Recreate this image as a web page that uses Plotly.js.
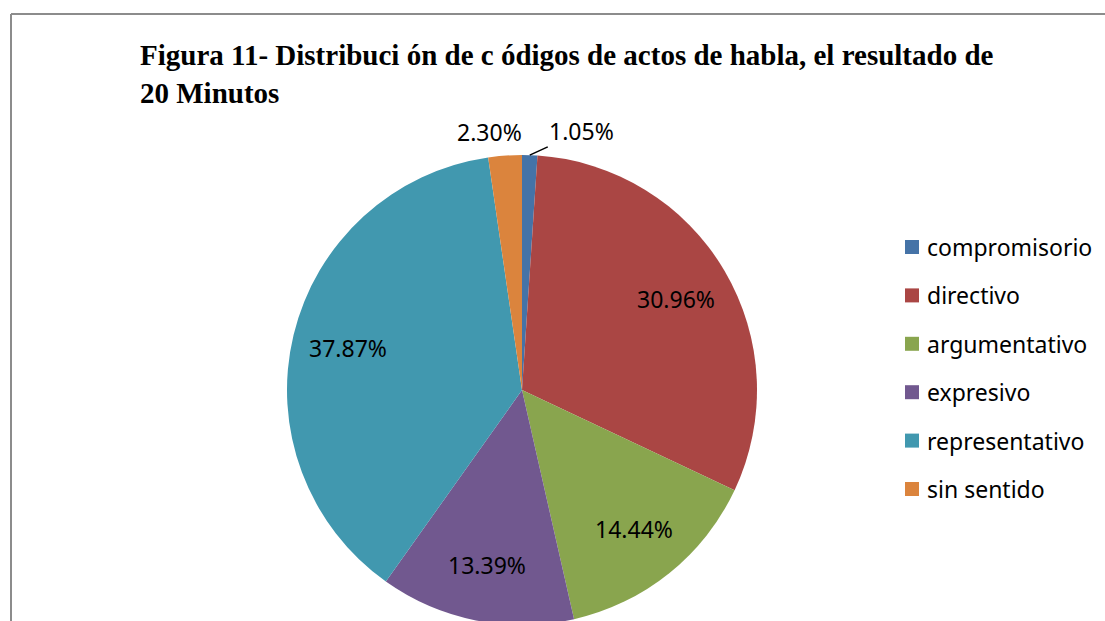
<!DOCTYPE html>
<html>
<head>
<meta charset="utf-8">
<script src="https://cdn.plot.ly/plotly-3.0.1.min.js"></script>
<style>
html,body{margin:0;padding:0;overflow:hidden;background:#fff;}
#chart{width:1105px;height:660px;}
</style>
</head>
<body>
<div id="chart"></div>
<script>
// ---- data ----
const categories = ["compromisorio", "directivo", "argumentativo", "expresivo", "representativo", "sin sentido"];
const percentValues = [1.05, 30.96, 14.44, 13.39, 37.87, 2.30];
const percentLabels = ["1.05%", "30.96%", "14.44%", "13.39%", "37.87%", "2.30%"];
const sliceColors = ["#4573A7", "#AA4644", "#89A54E", "#71588F", "#4198AF", "#DB843D"];
const labelPlacement = ["outside", "inside", "inside", "inside", "inside", "outside"];

// ---- geometry / style ----
const W = 1105, H = 660;
const pieLeft = 287, pieRight = 757, pieTop = 155, pieBottom = 625; // pixels
const cx = (pieLeft + pieRight) / 2, cy = (pieTop + pieBottom) / 2, R = (pieRight - pieLeft) / 2;
const insideRadiusFrac = 0.76;
const FONT = "Noto Sans, Open Sans, sans-serif";
const px2x = p => p / W, px2y = p => (H - p) / H;

const trace = {
  type: "pie",
  labels: categories,
  values: percentValues,
  text: percentLabels,
  textinfo: "none",
  sort: false,
  direction: "clockwise",
  rotation: 0,
  marker: {colors: sliceColors, line: {color: "#ffffff", width: 0}},
  domain: {x: [px2x(pieLeft), px2x(pieRight)], y: [px2y(pieBottom), px2y(pieTop)]},
  hoverinfo: "label+text",
  showlegend: false
};

// data labels, positioned from each slice's mid angle
const total = percentValues.reduce((a, b) => a + b, 0);
const annotations = [];
let cum = 0;
percentValues.forEach((v, i) => {
  const mid = (cum + v / 2) / total * 2 * Math.PI;
  cum += v;
  const sx = Math.sin(mid), sy = -Math.cos(mid);
  if (labelPlacement[i] === "inside") {
    annotations.push({
      x: px2x(cx + sx * R * insideRadiusFrac), y: px2y(cy + sy * R * insideRadiusFrac),
      xref: "paper", yref: "paper", text: percentLabels[i], showarrow: false,
      xanchor: "center", yanchor: "middle",
      font: {family: FONT, size: 23, color: "#000"}
    });
  } else {
    const right = sx > 0;
    annotations.push({
      x: px2x(cx + sx * R), y: px2y(cy + sy * R),
      xref: "paper", yref: "paper", text: percentLabels[i],
      showarrow: true, arrowhead: 0, arrowwidth: 1.5,
      arrowcolor: right ? "#000" : "rgba(0,0,0,0)",
      ax: right ? 52 : -16, ay: -24, standoff: 0,
      xanchor: "center", yanchor: "middle",
      font: {family: FONT, size: 23, color: "#000"}
    });
  }
});

// legend built from the category / colour arrays
const shapes = [
  {type: "line", xref: "paper", yref: "paper", x0: px2x(11), x1: px2x(11), y0: -0.1, y1: px2y(14), line: {color: "#8c8c8c", width: 2}},
  {type: "line", xref: "paper", yref: "paper", x0: px2x(11), x1: 1.05, y0: px2y(14), y1: px2y(14), line: {color: "#8c8c8c", width: 2}}
];
const legendTop = 247, legendStep = 48.4;
categories.forEach((c, i) => {
  const yc = legendTop + i * legendStep;
  shapes.push({type: "rect", xref: "paper", yref: "paper",
    x0: px2x(905), x1: px2x(919), y0: px2y(yc + 7), y1: px2y(yc - 7),
    fillcolor: sliceColors[i], line: {width: 0}});
  annotations.push({x: px2x(925), y: px2y(yc), xref: "paper", yref: "paper",
    text: c, showarrow: false, xanchor: "left", yanchor: "middle",
    font: {family: FONT, size: 23, color: "#000"}});
});

const layout = {
  width: W,
  height: H,
  margin: {l: 0, r: 0, t: 0, b: 0},
  paper_bgcolor: "#fff",
  plot_bgcolor: "#fff",
  showlegend: false,
  title: {
    text: "Figura 11- Distribuci ón de c ódigos de actos de habla, el resultado de<br>20 Minutos",
    xref: "container", yref: "container",
    x: px2x(140), xanchor: "left",
    y: px2y(65), yanchor: "top",
    font: {family: "Liberation Serif, Times New Roman, serif", size: 29, color: "#000", weight: "bold"}
  },
  annotations: annotations,
  shapes: shapes
};

Plotly.newPlot("chart", [trace], layout, {displayModeBar: false, staticPlot: true});
</script>
</body>
</html>
